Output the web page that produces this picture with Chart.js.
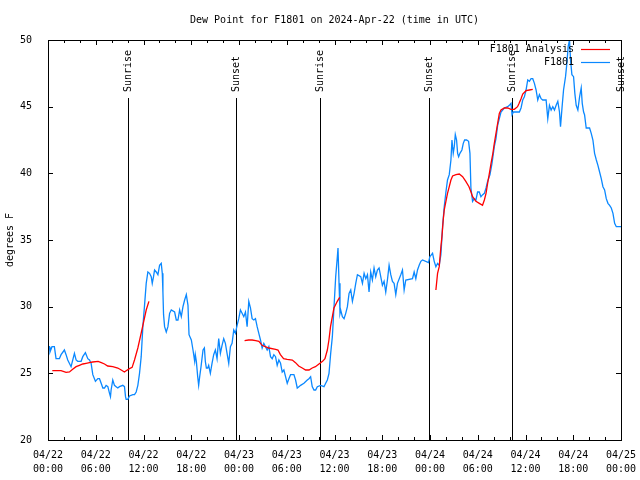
<!DOCTYPE html>
<html>
<head>
<meta charset="utf-8">
<script src="https://cdn.jsdelivr.net/npm/chart.js@4"></script>
<style>
  body { margin: 0; background: #fff; }
  canvas { display: block; }
</style>
</head>
<body>
<canvas id="chart" width="640" height="480"></canvas>
<script>
// hours since 2024-04-22 00:00 UTC
const blueHours = [
  0.0, 0.17, 0.25, 0.5, 0.8, 1.01, 1.43, 1.64, 2.06, 2.27, 2.48, 2.9, 3.32, 3.53, 3.74, 4.16, 4.37, 4.7, 5.0, 5.21,
  5.42, 5.63, 5.96, 6.26, 6.47, 6.68, 6.89, 7.1, 7.3, 7.52, 7.73, 7.85, 7.93, 8.14, 8.35, 8.56, 8.77, 8.98, 9.4, 9.61,
  9.74, 9.82, 10.03, 10.24, 10.66, 10.87, 11.08, 11.29, 11.5, 11.71, 11.92, 12.13, 12.34, 12.55, 12.76, 12.97, 13.1, 13.26, 13.39, 13.6,
  13.81, 14.02, 14.23, 14.36, 14.44, 14.52, 14.65, 14.86, 15.07, 15.28, 15.49, 15.91, 16.12, 16.33, 16.54, 16.75, 16.96, 17.17, 17.38, 17.59,
  17.72, 18.01, 18.22, 18.43, 18.51, 18.64, 18.81, 18.93, 19.06, 19.23, 19.48, 19.65, 19.77, 19.9, 20.07, 20.19, 20.4, 20.61, 20.82, 21.03,
  21.24, 21.45, 21.66, 21.87, 22.08, 22.29, 22.5, 22.71, 22.92, 23.13, 23.34, 23.55, 23.76, 23.97, 24.18, 24.39, 24.6, 24.81, 25.02, 25.23,
  25.44, 25.65, 25.86, 26.07, 26.28, 26.49, 26.7, 26.91, 27.12, 27.33, 27.54, 27.75, 27.96, 28.17, 28.38, 28.59, 28.8, 29.01, 29.22, 29.43,
  29.64, 29.85, 30.06, 30.27, 30.48, 30.9, 31.11, 31.32, 31.53, 31.74, 32.16, 32.58, 32.79, 33.0, 33.2, 33.42, 33.63, 33.84, 34.26, 34.68,
  34.89, 35.1, 35.31, 35.52, 35.73, 35.94, 36.15, 36.36, 36.44, 36.57, 36.69, 36.78, 36.99, 37.2, 37.41, 37.62, 37.83, 38.04, 38.25, 38.46,
  38.67, 38.88, 39.3, 39.51, 39.72, 39.93, 40.14, 40.34, 40.55, 40.76, 40.97, 41.18, 41.39, 41.6, 41.81, 42.02, 42.23, 42.44, 42.65, 42.86,
  43.07, 43.28, 43.49, 43.7, 43.91, 44.33, 44.54, 44.75, 44.96, 45.8, 46.01, 46.22, 46.43, 46.64, 46.85, 47.06, 47.81, 47.98, 48.32, 48.53,
  48.74, 48.95, 49.16, 49.37, 49.58, 49.79, 50.0, 50.2, 50.42, 50.63, 50.76, 50.92, 51.05, 51.18, 51.34, 51.47, 51.6, 51.76, 52.01, 52.18,
  52.35, 52.6, 52.85, 53.02, 53.14, 53.35, 53.56, 53.77, 53.98, 54.19, 54.4, 54.62, 54.83, 55.04, 55.24, 55.54, 55.79, 56.08, 56.29, 56.5,
  56.71, 56.92, 57.34, 57.76, 57.97, 58.18, 58.31, 58.48, 59.23, 59.44, 59.65, 59.86, 60.07, 60.28, 60.49, 60.7, 60.91, 61.12, 61.33, 61.54,
  61.75, 61.96, 62.17, 62.59, 62.8, 63.01, 63.22, 63.43, 63.64, 63.85, 64.06, 64.27, 64.4, 64.6, 64.78, 65.03, 65.2, 65.36, 65.53, 65.66,
  65.83, 66.04, 66.2, 66.37, 66.58, 66.8, 67.0, 67.13, 67.3, 67.42, 67.63, 68.05, 68.26, 68.47, 68.68, 68.9, 69.1, 69.31, 69.52, 69.73,
  69.94, 70.15, 70.36, 70.57, 70.78, 70.99, 71.2, 71.41, 72.0
];
const blueValues = [
  27.0, 27.0, 26.6, 27.0, 27.0, 26.1, 26.1, 26.4, 26.75, 26.4, 26.0, 25.5, 26.5, 26.0, 25.9, 25.9, 26.25, 26.55, 26.1, 26.0,
  25.75, 24.9, 24.4, 24.6, 24.6, 24.25, 23.9, 23.9, 24.1, 24.0, 23.5, 23.25, 23.75, 24.5, 24.1, 24.0, 23.9, 24.0, 24.1, 24.0,
  23.25, 23.05, 23.05, 23.3, 23.4, 23.4, 23.6, 24.1, 25.0, 26.25, 28.5, 30.1, 31.75, 32.6, 32.5, 32.25, 31.75, 32.25, 32.75, 32.6,
  32.4, 33.1, 33.25, 32.5, 31.1, 29.4, 28.5, 28.1, 28.5, 29.5, 29.75, 29.6, 29.0, 29.0, 29.75, 29.25, 30.0, 30.5, 30.9, 30.1,
  27.9, 27.5, 26.75, 25.9, 26.4, 25.9, 24.75, 24.1, 24.75, 25.5, 26.75, 26.9, 25.9, 25.4, 25.4, 25.6, 25.0, 25.75, 26.4, 26.75,
  26.1, 27.6, 26.5, 27.1, 27.6, 27.25, 26.5, 25.75, 27.0, 27.25, 28.25, 28.0, 28.6, 29.1, 29.75, 29.5, 29.25, 29.6, 28.5, 30.4,
  29.9, 29.1, 29.0, 29.1, 28.5, 28.0, 27.5, 26.9, 27.25, 27.0, 26.75, 27.0, 26.25, 26.1, 26.4, 26.25, 25.6, 26.0, 25.75, 25.1,
  25.25, 24.75, 24.25, 24.6, 24.9, 24.9, 24.5, 23.9, 24.0, 24.1, 24.25, 24.5, 24.6, 24.75, 24.0, 23.75, 23.75, 24.0, 24.1, 24.0,
  24.25, 24.5, 25.0, 26.5, 27.75, 30.0, 32.25, 33.75, 34.4, 31.75, 29.5, 29.75, 29.25, 29.1, 29.5, 30.0, 31.0, 31.25, 30.4, 31.0,
  31.75, 32.4, 32.25, 31.75, 32.5, 32.1, 32.4, 31.1, 32.6, 32.0, 32.9, 32.25, 32.75, 32.9, 32.25, 31.6, 31.9, 31.1, 32.0, 33.1,
  32.4, 31.9, 31.75, 30.9, 31.75, 32.4, 32.75, 31.25, 32.0, 32.1, 32.6, 32.1, 32.75, 33.1, 33.4, 33.5, 33.3, 33.75, 34.0, 33.4,
  33.0, 33.25, 33.1, 33.9, 36.0, 37.5, 38.6, 39.5, 39.9, 41.0, 42.5, 41.5, 42.0, 42.9, 42.5, 41.5, 41.25, 41.5, 41.75, 42.25,
  42.5, 42.5, 42.4, 41.5, 38.9, 37.9, 38.1, 38.0, 38.6, 38.6, 38.25, 38.4, 38.5, 38.9, 39.4, 39.9, 40.75, 42.0, 42.6, 43.6,
  44.1, 44.6, 44.9, 45.0, 45.1, 45.25, 44.4, 44.6, 44.6, 44.9, 45.5, 45.75, 46.25, 47.0, 46.9, 47.1, 47.1, 46.75, 46.25, 45.5,
  45.9, 45.6, 45.5, 45.5, 44.1, 45.1, 44.75, 45.0, 44.75, 45.1, 45.4, 44.6, 43.5, 45.0, 46.25, 47.25, 48.25, 49.5, 50.0, 48.5,
  47.4, 47.25, 46.0, 45.1, 44.75, 45.75, 46.4, 45.25, 44.6, 44.4, 43.4, 43.4, 43.0, 42.5, 41.5, 41.0, 40.6, 40.1, 39.6, 39.0,
  38.75, 38.1, 37.75, 37.6, 37.4, 37.0, 36.25, 36.0, 36.0
];

// analysis series, null marks a break between runs
const redHours = [
  0.54, 1.64, 2.27, 2.7, 3.1, 3.53, 3.95, 4.37, 4.79, 5.2, 5.6, 6.3, 6.7, 7.1, 7.5, 8.14, 8.77, 9.2, 9.6, 9.82,
  10.24, 10.57, 10.87, 11.29, 11.7, 11.92, 12.34, 12.68,
  18,
  24.7, 25.2, 25.65, 26.1, 26.5, 26.9, 27.3, 27.75, 28.6, 28.9, 29.2, 29.6, 30.05, 30.7, 31.1, 31.5, 31.95, 32.37, 32.8, 33.2,
  33.6, 34.05, 34.5, 34.8, 35.1, 35.3, 35.5, 35.73, 35.93, 36.35, 36.65,
  42,
  48.74, 48.95, 49.16, 49.37, 49.5, 49.66, 49.79, 50.0, 50.2, 50.42, 50.63, 50.84, 51.26, 51.68, 52.1, 52.5, 52.9, 53.15, 53.35, 53.77,
  54.2, 54.6, 54.83, 55.04, 55.24, 55.46, 55.67, 55.9, 56.08, 56.29, 56.5, 56.71, 56.92, 57.34, 57.76, 58.18, 58.6, 58.8, 59.0, 59.2,
  59.44, 59.65, 60.07, 60.49, 60.91
];
const redValues = [
  25.2, 25.2, 25.07, 25.1, 25.3, 25.5, 25.6, 25.7, 25.75, 25.8, 25.85, 25.9, 25.8, 25.7, 25.55, 25.5, 25.4, 25.25, 25.1, 25.2,
  25.35, 25.45, 26.0, 26.9, 28.0, 28.6, 29.75, 30.4,
  null,
  27.45, 27.5, 27.5, 27.45, 27.4, 27.1, 27.0, 26.9, 26.8, 26.75, 26.4, 26.1, 26.05, 26.0, 25.8, 25.55, 25.4, 25.25, 25.25, 25.4,
  25.5, 25.7, 25.9, 26.1, 26.75, 27.5, 28.5, 29.25, 29.9, 30.4, 30.7,
  null,
  31.25, 32.5, 33.0, 34.5, 35.25, 36.5, 37.25, 37.9, 38.5, 39.0, 39.5, 39.8, 39.9, 39.95, 39.75, 39.4, 39.0, 38.6, 38.25, 37.9,
  37.75, 37.6, 38.0, 38.5, 39.25, 40.0, 40.75, 41.5, 42.25, 43.0, 43.75, 44.5, 44.75, 44.9, 44.9, 44.8, 44.8, 44.9, 45.0, 45.25,
  45.6, 45.95, 46.2, 46.25, 46.3
];

const xTickLabels = [
  ["04/22", "00:00"], ["04/22", "06:00"], ["04/22", "12:00"], ["04/22", "18:00"],
  ["04/23", "00:00"], ["04/23", "06:00"], ["04/23", "12:00"], ["04/23", "18:00"],
  ["04/24", "00:00"], ["04/24", "06:00"], ["04/24", "12:00"], ["04/24", "18:00"],
  ["04/25", "00:00"]
];

const eventHours = [10.08, 23.68, 34.2, 47.9, 58.3, 71.95];
const eventLabels = ["Sunrise", "Sunset", "Sunrise", "Sunset", "Sunrise", "Sunset"];

const FONT = "10px 'DejaVu Sans Mono', 'Liberation Mono', monospace";
const TITLE = "Dew Point for F1801 on 2024-Apr-22 (time in UTC)";

// sunrise / sunset markers, drawn under the data
const eventLines = {
  id: "eventLines",
  beforeDatasetsDraw(chart) {
    const { ctx, chartArea, scales } = chart;
    ctx.save();
    ctx.strokeStyle = "#000";
    ctx.fillStyle = "#000";
    ctx.lineWidth = 1;
    ctx.font = FONT;
    eventHours.forEach((h, i) => {
      const x = Math.round(scales.x.getPixelForValue(h)) + 0.5;
      ctx.beginPath();
      ctx.moveTo(x, chartArea.top + 58);
      ctx.lineTo(x, chartArea.bottom);
      ctx.stroke();

      ctx.save();
      ctx.translate(x, chartArea.top + 52);
      ctx.rotate(-Math.PI / 2);
      ctx.textAlign = "left";
      ctx.textBaseline = "middle";
      ctx.fillText(eventLabels[i], 0, 0);
      ctx.restore();
    });
    ctx.restore();
  },
};

// gnuplot style frame, inward ticks, title and legend
const frame = {
  id: "frame",
  afterDatasetsDraw(chart) {
    const { ctx, chartArea, scales } = chart;
    const { left, right, top, bottom } = chartArea;
    ctx.save();
    ctx.strokeStyle = "#000";
    ctx.lineWidth = 1;

    ctx.beginPath();
    for (let h = 0; h <= 72; h += 2) {
      const x = Math.round(scales.x.getPixelForValue(h)) + 0.5;
      const len = h % 6 === 0 ? 5 : 3;
      ctx.moveTo(x, bottom);
      ctx.lineTo(x, bottom - len);
      ctx.moveTo(x, top);
      ctx.lineTo(x, top + len);
    }
    for (let v = 20; v <= 50; v += 5) {
      const y = Math.round(scales.y.getPixelForValue(v)) + 0.5;
      ctx.moveTo(left, y);
      ctx.lineTo(left + 5, y);
      ctx.moveTo(right, y);
      ctx.lineTo(right - 5, y);
    }
    ctx.stroke();

    ctx.strokeRect(Math.round(left) + 0.5, Math.round(top) + 0.5,
      Math.round(right - left), Math.round(bottom - top));

    ctx.fillStyle = "#000";
    ctx.font = FONT;
    ctx.textAlign = "center";
    ctx.textBaseline = "middle";
    ctx.fillText(TITLE, (left + right) / 2, 20);

    // legend, top right inside the plot
    ctx.textAlign = "right";
    chart.data.datasets.forEach((ds, i) => {
      const y = top + 9 + i * 13;
      ctx.fillStyle = "#000";
      ctx.fillText(ds.label, right - 47, y);
      ctx.strokeStyle = ds.borderColor;
      ctx.lineWidth = 1.2;
      ctx.beginPath();
      ctx.moveTo(right - 40, y + 0.5);
      ctx.lineTo(right - 11, y + 0.5);
      ctx.stroke();
    });
    ctx.restore();
  },
};

const blueData = blueHours.map((h, i) => ({ x: h, y: blueValues[i] }));
const redData = redHours.map((h, i) => ({ x: h, y: redValues[i] }));

new Chart(document.getElementById("chart"), {
  type: "line",
  data: {
    datasets: [
      {
        label: "F1801 Analysis",
        data: redData,
        borderColor: "#ff0000",
        borderWidth: 1.3,
        pointRadius: 0,
        tension: 0,
        spanGaps: false,
        order: 1,
      },
      {
        label: "F1801",
        data: blueData,
        borderColor: "#0a88ff",
        borderWidth: 1.3,
        pointRadius: 0,
        tension: 0,
        order: 2,
      },
    ],
  },
  options: {
    responsive: false,
    animation: false,
    layout: { padding: { top: 40, right: 19, left: 0, bottom: 0 } },
    plugins: {
      legend: { display: false },
      title: { display: false },
      tooltip: { enabled: false },
    },
    scales: {
      x: {
        type: "linear",
        min: 0,
        max: 72,
        grid: { display: false },
        border: { display: false },
        ticks: {
          stepSize: 6,
          autoSkip: false,
          maxRotation: 0,
          padding: 0,
          color: "#000",
          font: { family: "'DejaVu Sans Mono', monospace", size: 10, lineHeight: 1.4 },
          callback: (v) => xTickLabels[v / 6],
        },
        afterFit: (s) => {
          s.height = 40;
          s.paddingLeft = 0;
          s.paddingRight = 0;
        },
      },
      y: {
        min: 20,
        max: 50,
        grid: { display: false },
        border: { display: false },
        ticks: {
          stepSize: 5,
          padding: 8,
          color: "#000",
          font: { family: "'DejaVu Sans Mono', monospace", size: 10 },
        },
        title: {
          display: true,
          text: "degrees F",
          color: "#000",
          padding: { top: 4, bottom: 0 },
          font: { family: "'DejaVu Sans Mono', monospace", size: 10 },
        },
        afterFit: (s) => {
          s.width = 48;
          s.paddingTop = 0;
          s.paddingBottom = 0;
        },
      },
    },
  },
  plugins: [eventLines, frame],
});
</script>
</body>
</html>
